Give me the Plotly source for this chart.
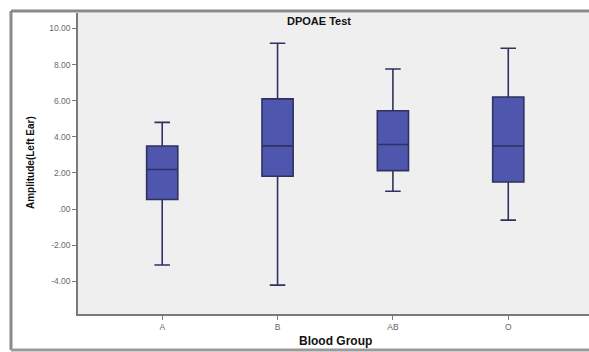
import plotly.graph_objects as go

categories = ["A", "B", "AB", "O"]
upper_whisker = [4.80, 9.18, 7.75, 8.90]
q3_values = [3.49, 6.10, 5.44, 6.20]
median_values = [2.19, 3.50, 3.58, 3.49]
q1_values = [0.53, 1.82, 2.13, 1.50]
lower_whisker = [-3.09, -4.20, 0.99, -0.61]
y_tick_values = [-4, -2, 0, 2, 4, 6, 8, 10]
y_tick_labels = ["-4.00", "-2.00", ".00", "2.00", "4.00", "6.00", "8.00", "10.00"]

W, H = 589, 352
L, R, T, B = 78, 0, 13, 38
PW, PH = W - L - R, H - T - B


def px(x):
    return (x - L) / PW


def py(y):
    return (H - B - y) / PH


fig = go.Figure()
fig.add_trace(go.Box(
    x=categories,
    q1=q1_values,
    median=median_values,
    q3=q3_values,
    lowerfence=lower_whisker,
    upperfence=upper_whisker,
    boxpoints=False,
    width=0.27,
    whiskerwidth=0.5,
    fillcolor="#4f56ad",
    line=dict(color="#2f3260", width=1.6),
    hoverinfo="skip",
    showlegend=False,
))

font_family = "Liberation Sans, Arial, sans-serif"
fig.update_layout(
    width=W, height=H,
    margin=dict(l=L, r=R, t=T, b=B, autoexpand=False),
    paper_bgcolor="white",
    plot_bgcolor="#efefef",
    font=dict(family=font_family, color="#555"),
    xaxis=dict(
        type="category",
        range=[-0.73, 3.70],
        automargin=False,
        showline=True, linecolor="#7a7a7a", linewidth=1.5,
        ticks="outside", ticklen=4, tickcolor="#7a7a7a",
        tickfont=dict(size=8.5, color="#666"),
        showgrid=False, zeroline=False,
    ),
    yaxis=dict(
        range=[-5.8, 10.85],
        automargin=False,
        tickvals=y_tick_values, ticktext=y_tick_labels,
        showline=True, linecolor="#7a7a7a", linewidth=1.5,
        ticks="outside", ticklen=4, tickcolor="#7a7a7a",
        tickfont=dict(size=8.5, color="#6a6a6a"),
        showgrid=False, zeroline=False,
    ),
    annotations=[
        dict(text="<b>DPOAE Test</b>", x=px(319), y=py(21), xref="paper", yref="paper",
             showarrow=False, font=dict(size=11, color="#111"),
             xanchor="center", yanchor="middle"),
        dict(text="<b>Blood Group</b>", x=px(335), y=py(341), xref="paper", yref="paper",
             showarrow=False, font=dict(size=12, color="#111"),
             xanchor="center", yanchor="middle"),
        dict(text="<b>Amplitude(Left Ear)</b>", x=px(30), y=py(163), xref="paper", yref="paper",
             showarrow=False, textangle=-90, font=dict(size=10, color="#111"),
             xanchor="center", yanchor="middle"),
    ],
    shapes=[
        dict(type="line", xref="paper", yref="paper", x0=px(11), x1=1.0, y0=py(11), y1=py(11),
             line=dict(color="#8a8a8a", width=3)),
        dict(type="line", xref="paper", yref="paper", x0=px(11), x1=px(11), y0=py(11), y1=py(350),
             line=dict(color="#8a8a8a", width=3)),
        dict(type="line", xref="paper", yref="paper", x0=px(11), x1=1.0, y0=py(350), y1=py(350),
             line=dict(color="#9a9a9a", width=3)),
    ],
)

fig.write_html("out.html", config={"displayModeBar": False})

with open("out.html", "r", encoding="utf-8") as f:
    html = f.read()
html = html.replace("<head>", "<head><style>html,body{margin:0;padding:0;overflow:hidden;}</style>", 1)
with open("out.html", "w", encoding="utf-8") as f:
    f.write(html)
